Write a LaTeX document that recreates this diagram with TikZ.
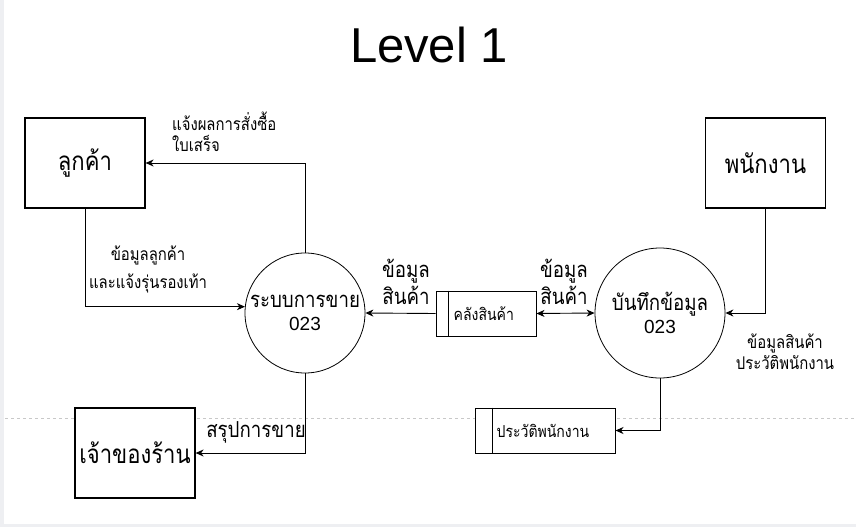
\documentclass[tikz,border=0pt]{standalone}
\usepackage{fontspec}
\setmainfont{Liberation Sans}
\newfontfamily\thai[Script=Thai,FakeStretch=0.85]{Loma}
\usetikzlibrary{arrows.meta,calc}
\definecolor{edgegray}{RGB}{238,239,242}
\definecolor{pagegray}{RGB}{200,200,200}
\tikzset{
  entity/.style={draw,line width=1.2pt,fill=white,minimum width=120pt,minimum height=90pt,inner sep=0pt,font=\thai\fontsize{26}{30}\selectfont},
  proc/.style={draw,circle,line width=0.8pt,fill=white,inner sep=0pt,align=center,font=\fontsize{19}{23}\selectfont},
  store/.style={draw,line width=1pt,fill=white,minimum height=45pt,inner sep=0pt},
  flow/.style={line width=0.9pt,-{Stealth[length=8pt,width=7pt,inset=2.5pt]}},
  biflow/.style={line width=0.9pt,{Stealth[length=8pt,width=7pt,inset=2.5pt]}-{Stealth[length=8pt,width=7pt,inset=2.5pt]}},
  lbl/.style={inner sep=0pt,align=center,font=\thai\fontsize{17.5}{21}\selectfont},
  blbl/.style={inner sep=0pt,align=center,font=\thai\fontsize{22}{26.5}\selectfont},
  slbl/.style={anchor=west,inner sep=0pt,font=\thai\fontsize{16.5}{18}\selectfont}
}
\begin{document}
\begin{tikzpicture}[x=1pt,y=-1pt]
\useasboundingbox (0,0) rectangle (856,527);
\fill[white] (0,0) rectangle (856,527);
\fill[edgegray] (0,0) rectangle (4,527);
\fill[edgegray] (0,524) rectangle (856,527);
\draw[pagegray,dash pattern=on 3pt off 3pt,line width=0.8pt] (5,418) -- (856,418);

\node (title) at (429,45) {\fontsize{49}{56}\selectfont Level 1};

\node[entity] (cust) at (85,163) {ลูกค้า};
\node[entity] (staff) at (765.5,163) {พนักงาน};
\node[entity] (owner) at (135,453) {เจ้าของร้าน};

\node[proc,minimum size=120pt] (sales) at (305,313) {{\thai\fontsize{22}{23}\selectfont ระบบการขาย}\\023};
\node[proc,minimum size=130pt] (rec) at (660,313) {{\thai\fontsize{22}{23}\selectfont บันทึกข้อมูล}\\023};

\node[store,minimum width=100pt] (stock) at (486,313.5) {};
\draw[line width=1pt] ($(stock.north west)+(13,0)$) -- ($(stock.south west)+(13,0)$);
\node[slbl] (stocktxt) at ($(stock.west)+(18,0)$) {คลังสินค้า};

\node[store,minimum width=140pt] (hist) at (545,430.5) {};
\draw[line width=1pt] ($(hist.north west)+(18,0)$) -- ($(hist.south west)+(18,0)$);
\node[slbl] (histtxt) at ($(hist.west)+(22,0)$) {ประวัติพนักงาน};

\draw[flow] (cust.south) |- (sales.174);
\draw[flow] (sales.north) |- (cust.east);
\draw[flow] (stock.west) -- (sales.east);
\draw[biflow] (stock.east) -- (rec.west);
\draw[flow] (staff.south) |- (rec.east);
\draw[flow] (rec.south) |- (hist.east);
\draw[flow] (sales.south) |- (owner.east);

\node[lbl,anchor=west,align=left] (l1) at (172,132) {แจ้งผลการสั่งซื้อ\\ใบเสร็จ};
\node[lbl] (l2) at (148,255) {ข้อมูลลูกค้า};
\node[lbl] (l3) at (148,283) {และแจ้งรุ่นรองเท้า};
\node[blbl] (l4) at (406,282) {ข้อมูล\\สินค้า};
\node[blbl] (l5) at (564,282) {ข้อมูล\\สินค้า};
\node[lbl] (l6) at (785,352) {ข้อมูลสินค้า\\ประวัติพนักงาน};
\node[blbl] (l7) at (256,432) {สรุปการขาย};
\end{tikzpicture}
\end{document}
